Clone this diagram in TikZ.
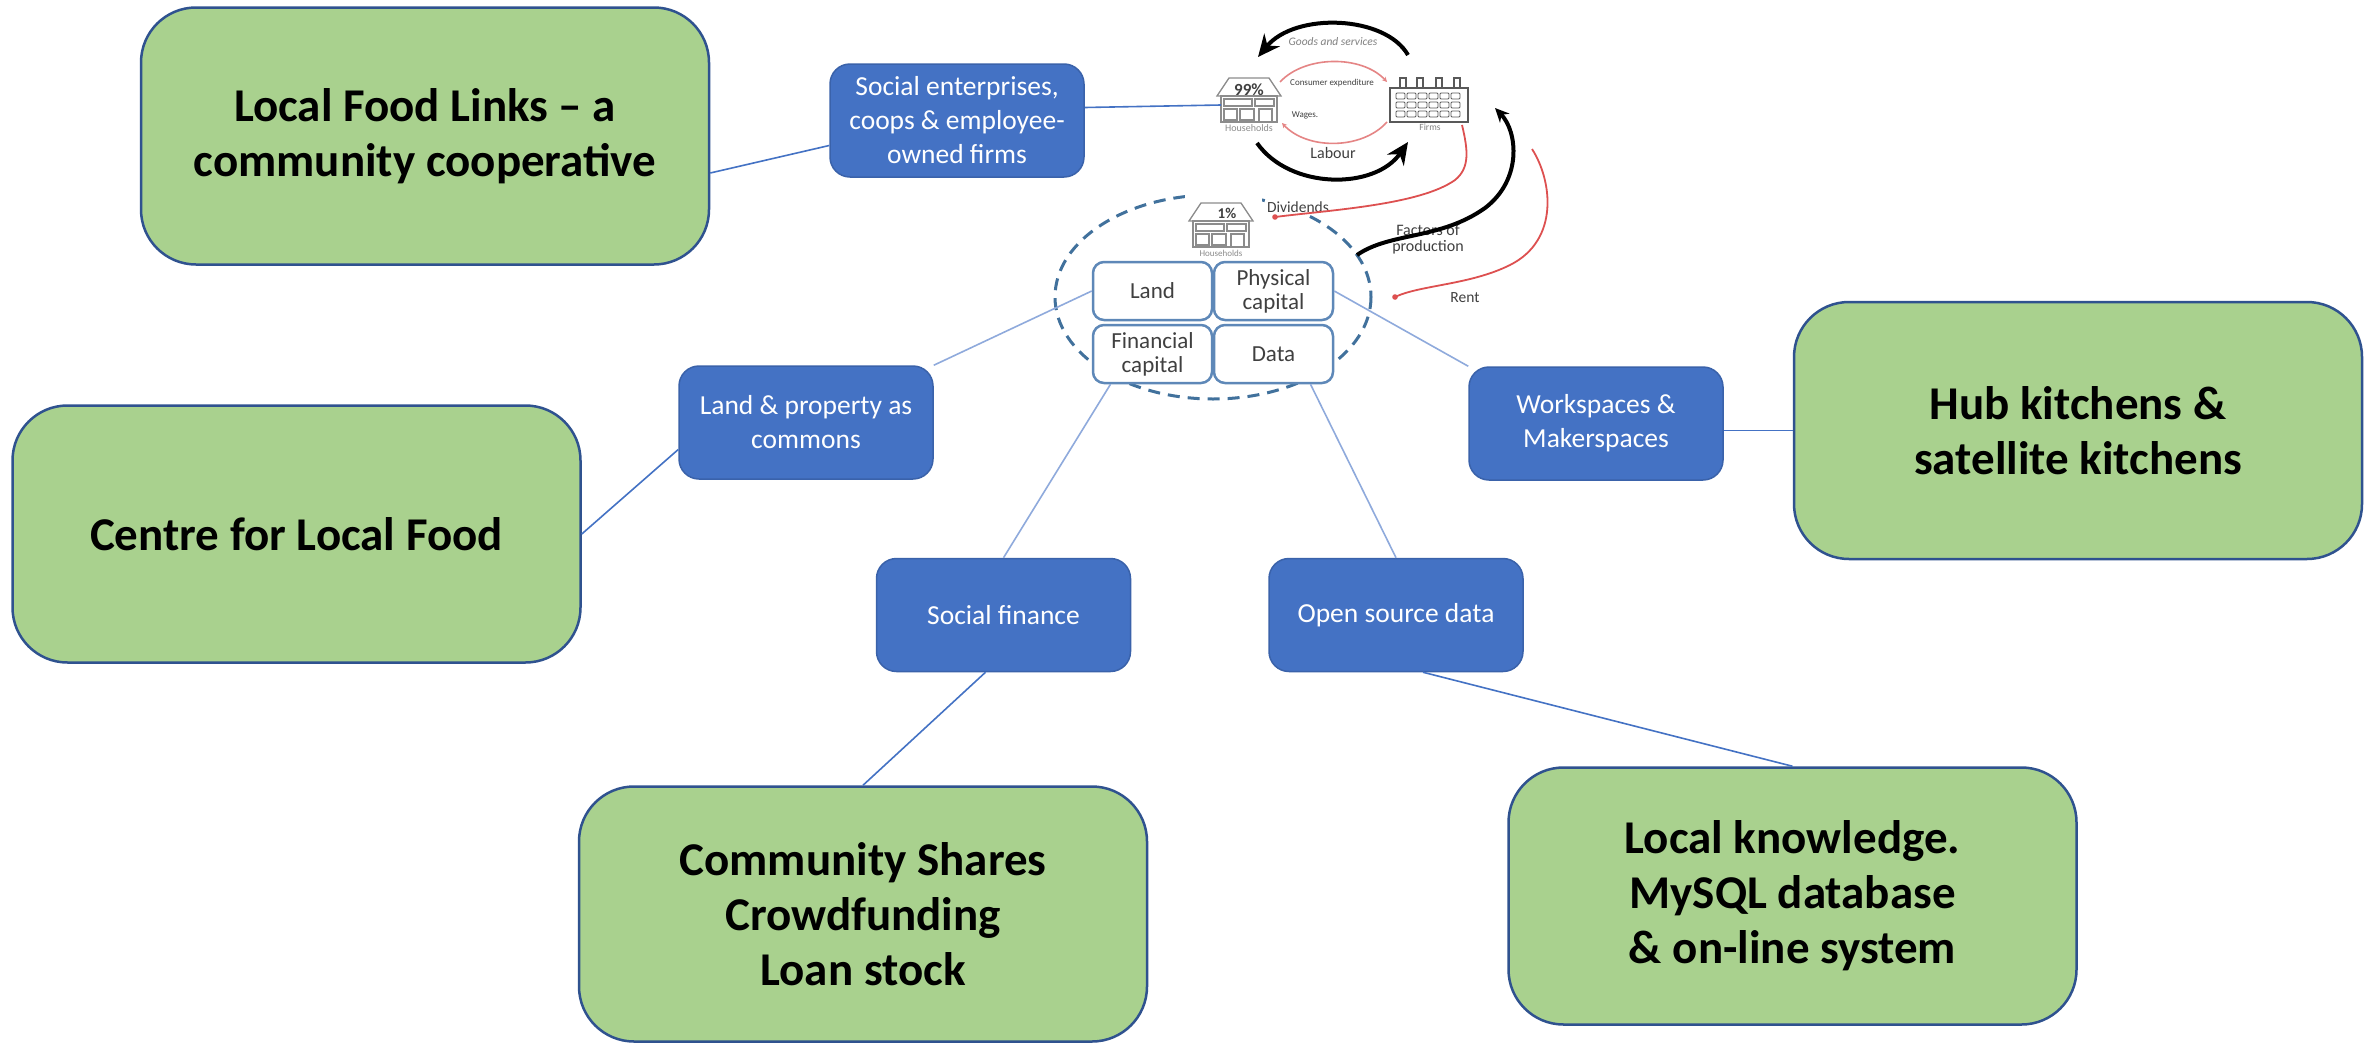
\documentclass[tikz,border=0pt]{standalone}
\usepackage{fontspec}
\setmainfont{Carlito}
\usetikzlibrary{arrows.meta,calc}
\definecolor{gfill}{HTML}{A9D18E}
\definecolor{gline}{HTML}{2F528F}
\definecolor{bfill}{HTML}{4472C4}
\definecolor{bline}{HTML}{3A62AA}
\definecolor{cline}{HTML}{5E88B8}
\definecolor{lcon}{HTML}{8FAADC}
\definecolor{dashcol}{HTML}{41719C}
\definecolor{txtgray}{HTML}{404040}
\definecolor{icongray}{HTML}{8C8C8C}
\definecolor{redflow}{HTML}{DD5050}
\definecolor{redlight}{HTML}{E58585}
\tikzset{
 greenbox/.style={draw=gline, line width=2.5pt, fill=gfill, rounded corners=55pt,
   minimum width=568pt, minimum height=257pt, align=center,
   font=\fontsize{47}{55}\selectfont\bfseries, text=black, inner sep=0pt},
 bluebox/.style={draw=bline, line width=1.5pt, fill=bfill, rounded corners=20pt,
   minimum width=254pt, minimum height=113pt, align=center,
   font=\fontsize{27.5}{34}\selectfont, text=white, inner sep=0pt},
 capbox/.style={draw=cline, line width=2.5pt, fill=white, rounded corners=11pt,
   minimum width=119pt, minimum height=58pt, align=center,
   font=\fontsize{23}{24}\selectfont, text=txtgray, inner sep=0pt},
 darkcon/.style={draw=bfill, line width=1.6pt},
 lightline/.style={draw=lcon, line width=1.6pt},
 lbl/.style={text=txtgray, inner sep=0pt, align=center},
 bigflow/.style={draw=black, line width=4pt, -{Stealth[length=22pt,width=20pt]}},
 redline/.style={draw=redflow, line width=1.8pt},
 smallred/.style={draw=redlight, line width=1.6pt, -{Stealth[length=5pt,width=5pt]}},
 house/.pic={
   \draw[icongray, line width=1.3pt, fill=white] (-20,0) -- (20,0) -- (32,18) -- (-32,18) -- cycle;
   \draw[icongray, line width=1.3pt, fill=white] (-28,18) rectangle (28,44);
   \draw[icongray, line width=1.1pt] (-25,21) rectangle (3,28) (6,21) rectangle (25,28)
     (-25,31) rectangle (-12,42) (-9,31) rectangle (5,42) (10,31) rectangle (23,44);
 },
 factory/.pic={
   \foreach \cx in {10,27,46,64} \draw[line width=1.3pt, draw=gray!70!black] (\cx,0) rectangle ++(6,10);
   \draw[line width=1.5pt, draw=gray!70!black, fill=white] (0,10) rectangle (78,44);
   \foreach \i in {0,...,5} \foreach \j in {0,1,2}
     \draw[line width=0.9pt, draw=gray!70!black, rounded corners=1pt] (6+\i*11,15+\j*9) rectangle ++(9,6);
 }
}
\begin{document}
\begin{tikzpicture}[x=1pt,y=-1pt]
\useasboundingbox[fill=white] (0,0) rectangle (2374,1044);

% green boxes
\node[greenbox] (g1) at (425,136) {Local Food Links -- a\\community cooperative};
\node[greenbox] (g2) at (296.5,534) {Centre for Local Food};
\node[greenbox] (g3) at (2078,430.5) {Hub kitchens \&\\satellite kitchens};
\node[greenbox, minimum height=255pt] (g4) at (863,914) {Community Shares\\Crowdfunding\\Loan stock};
\node[greenbox] (g5) at (1792.5,896) {Local knowledge.\\MySQL database\\\& on-line system};

% blue boxes
\node[bluebox] (b1) at (957,120.5) {Social enterprises,\\coops \& employee-\\owned firms};
\node[bluebox] (b2) at (806,422.5) {Land \& property as\\commons};
\node[bluebox] (b3) at (1596,423.5) {Workspaces \&\\Makerspaces};
\node[bluebox] (b4) at (1003.5,615) {Social finance};
\node[bluebox] (b5) at (1396,615) {Open source data};

% dashed ellipse
\draw[dashcol, line width=3pt, dash pattern=on 12pt off 8pt] (1213,297) ellipse [x radius=158, y radius=102];
\fill[white] (1185,190) rectangle (1262,258);

% capital boxes
\node[capbox] (c1) at (1152.5,291) {Land};
\node[capbox] (c2) at (1273.5,291) {Physical\\capital};
\node[capbox] (c3) at (1152.5,354) {Financial\\capital};
\node[capbox] (c4) at (1273.5,354) {Data};

% houses and firms
\pic at (1249,78) {house};
\pic at (1221,203) {house};
\pic at (1390,78) {factory};
\coordinate (h99w) at (1221,105);

\node[lbl, font=\fontsize{17}{18}\selectfont\bfseries] (p99) at (1249,90) {99\%};
\node[lbl, font=\fontsize{15}{16}\selectfont\bfseries] (p1) at (1227,213) {1\%};
\node[lbl, text=icongray, font=\fontsize{10}{11}\selectfont] (hh1) at (1249,128) {Households};
\node[lbl, text=icongray, font=\fontsize{9}{10}\selectfont] (hh2) at (1221,253) {Households};
\node[lbl, text=gray, font=\fontsize{9.5}{10}\selectfont] (fm) at (1430,127) {Firms};
\node[lbl, text=gray, font=\fontsize{11.5}{12}\selectfont\itshape] (gs) at (1333,42) {Goods and services};
\node[lbl, font=\fontsize{9}{10}\selectfont] (ce) at (1332,83) {Consumer expenditure};
\node[lbl, font=\fontsize{9}{10}\selectfont] (wg) at (1305,115) {Wages.};
\node[lbl, font=\fontsize{16}{17}\selectfont] (lab) at (1333,153) {Labour};
\node[lbl, fill=white, inner sep=2pt, font=\fontsize{15.5}{16}\selectfont] (div) at (1298,207) {Dividends};
\node[lbl, font=\fontsize{16}{16}\selectfont] (fop) at (1428,239) {Factors of\\production};
\node[lbl, font=\fontsize{15.5}{16}\selectfont] (rent) at (1465,298) {Rent};

% flow coordinates
\coordinate (gsS) at (1408,55);  \coordinate (gsE) at (1258,57);
\coordinate (lbS) at (1257,143); \coordinate (lbE) at (1408,142);
\coordinate (ceS) at (1280,82);  \coordinate (ceE) at (1387,82);
\coordinate (wgS) at (1387,122); \coordinate (wgE) at (1282,123);
\coordinate (dvS) at (1462,125); \coordinate (dvE) at (1275,217);
\coordinate (fpS) at (1357,255); \coordinate (fpE) at (1495,108);
\coordinate (rtS) at (1532,149); \coordinate (rtE) at (1395,297);

\draw[bigflow] (gsS) .. controls (1385,15) and (1295,12) .. (gsE);
\draw[bigflow] (lbS) .. controls (1290,190) and (1375,190) .. (lbE);
\draw[smallred] (ceS) .. controls (1305,55) and (1362,55) .. (ceE);
\draw[smallred] (wgS) .. controls (1362,150) and (1307,150) .. (wgE);
\draw[redline] (dvS) .. controls (1468,150) and (1470,168) .. (1455,180) .. controls (1420,205) and (1330,210) .. (dvE);
\fill[redflow] (dvE) circle (2.8);
\draw[draw=black, line width=4pt, -{Stealth[length=14pt,width=13pt]}] (fpS) .. controls (1390,232) and (1440,240) .. (1485,208) .. controls (1522,180) and (1518,132) .. (fpE);
\draw[redline] (rtS) .. controls (1552,180) and (1560,240) .. (1510,265) .. controls (1470,285) and (1420,285) .. (rtE);
\fill[redflow] (rtE) circle (2.8);

% connectors
\draw[darkcon] ($(g1.east)+(0,37)$) -- ($(b1.west)+(0,25)$);
\draw[darkcon] ($(b1.east)+(0,-13)$) -- (h99w);
\draw[darkcon] (g2.east) -- ($(b2.west)+(0,27)$);
\draw[lightline] (b2.north east) -- (c1.west);
\draw[lightline] (c2.east) -- (b3.north west);
\draw[darkcon] (g3.west -| b3.east) -- (g3.west);
\draw[lightline] ($(c3.south)+(-42,0)$) -- (b4.north);
\draw[darkcon] ($(b4.south)+(-18,0)$) -- (g4.north);
\draw[lightline] ($(c4.south)+(37,0)$) -- (b5.north);
\draw[darkcon] ($(b5.south)+(27,0)$) -- (g5.north);
\end{tikzpicture}
\end{document}
